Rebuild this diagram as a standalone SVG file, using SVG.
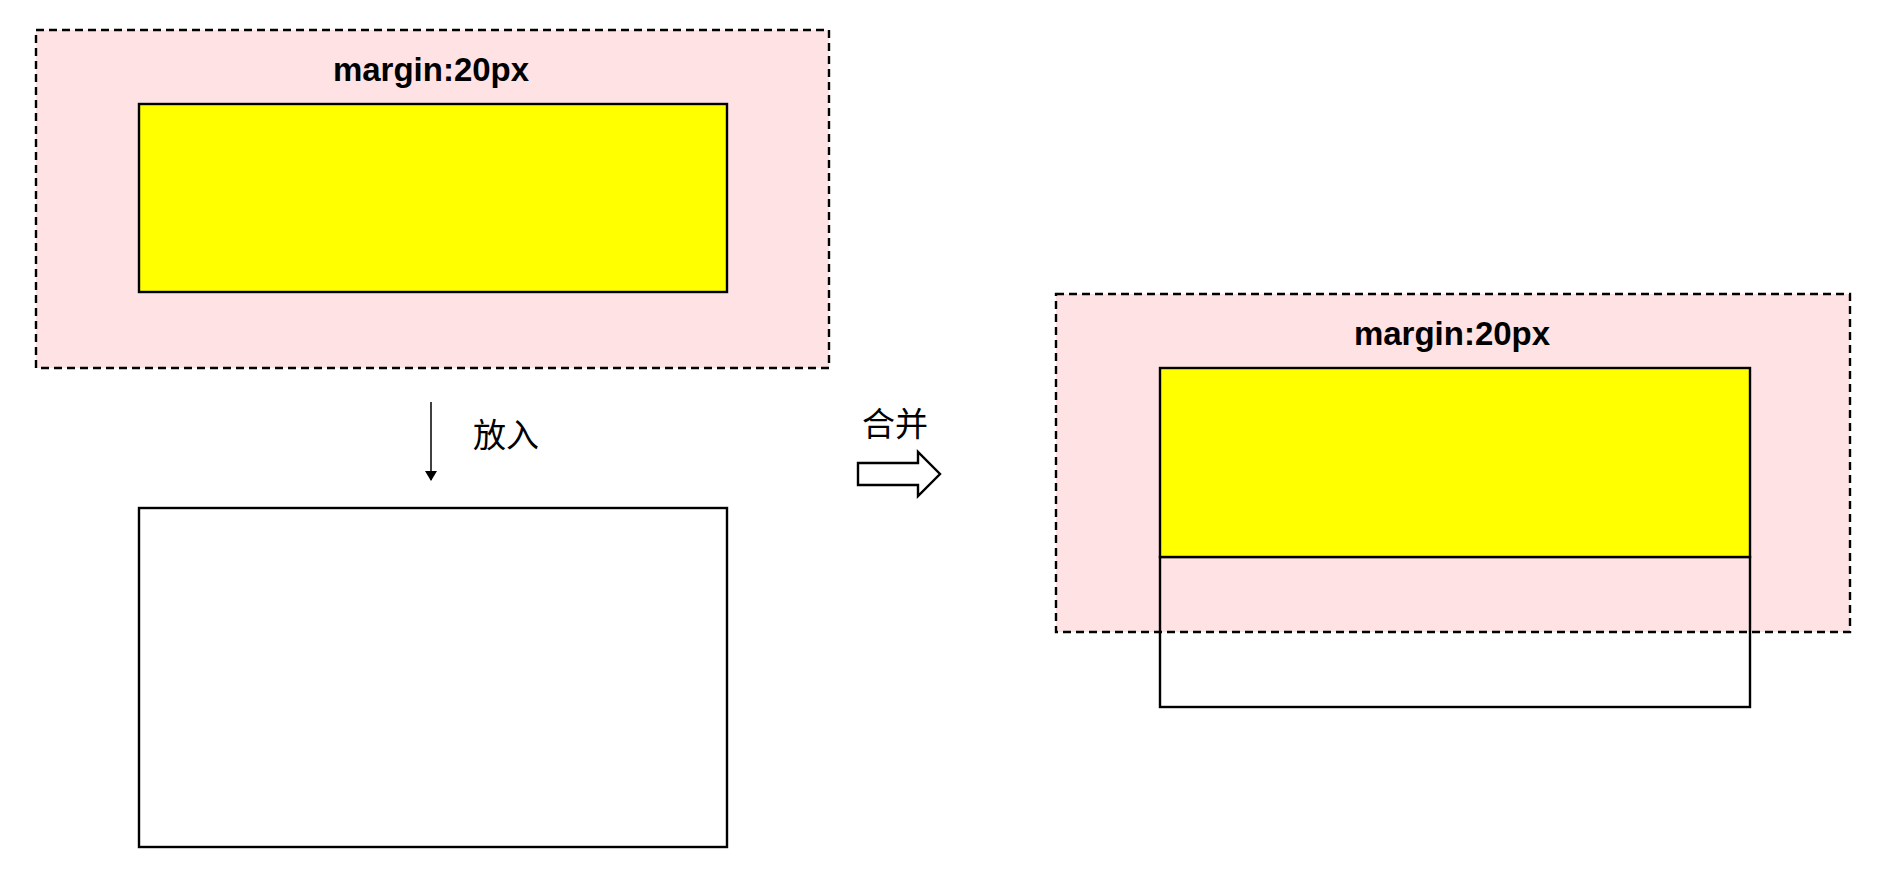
<svg xmlns="http://www.w3.org/2000/svg" width="1879" height="881" viewBox="0 0 1879 881">
<style>
.m{fill:#ffe3e4;stroke:#000;stroke-width:2.4;stroke-dasharray:8,5}
.y{fill:#ffff00;stroke:#000;stroke-width:2.4}
.w{fill:#fff;stroke:#000;stroke-width:2.4}
.t{font-family:"Liberation Sans",Arial,sans-serif;font-weight:bold;font-size:33px;text-anchor:middle}
.c{font-family:"Liberation Sans","Noto Sans CJK SC",sans-serif;font-size:33px;text-anchor:middle}
</style>
<defs><marker id="ah" markerWidth="10" markerHeight="12" refX="9" refY="6" orient="auto" markerUnits="userSpaceOnUse"><path d="M0,0 L10,6 L0,12 Z" fill="#000"/></marker></defs>
<g id="left-margin"><rect class="m" x="36" y="30" width="793" height="338"/><text class="t" x="431" y="81">margin:20px</text></g>
<g id="left-inner"><rect class="y" x="139" y="104" width="588" height="188"/></g>
<g id="container"><rect class="w" x="139" y="508" width="588" height="339"/></g>
<g id="right-margin"><rect class="m" x="1056" y="294" width="794" height="338"/><text class="t" x="1452" y="345">margin:20px</text></g>
<g id="right-container"><rect class="w" x="1160" y="557" width="590" height="150" style="fill:none"/></g>
<g id="right-inner"><rect class="y" x="1160" y="368" width="590" height="189"/></g>
<g id="connectors">
<line x1="431" y1="402" x2="431" y2="480" stroke="#000" stroke-width="1.5" marker-end="url(#ah)"/>
<text class="c" x="506" y="447">放入</text>
<text class="c" x="895" y="436">合并</text>
<path d="M858,463 L918,463 L918,452 L940,474 L918,496 L918,485 L858,485 Z" fill="#fff" stroke="#000" stroke-width="2.4"/>
</g>
</svg>
